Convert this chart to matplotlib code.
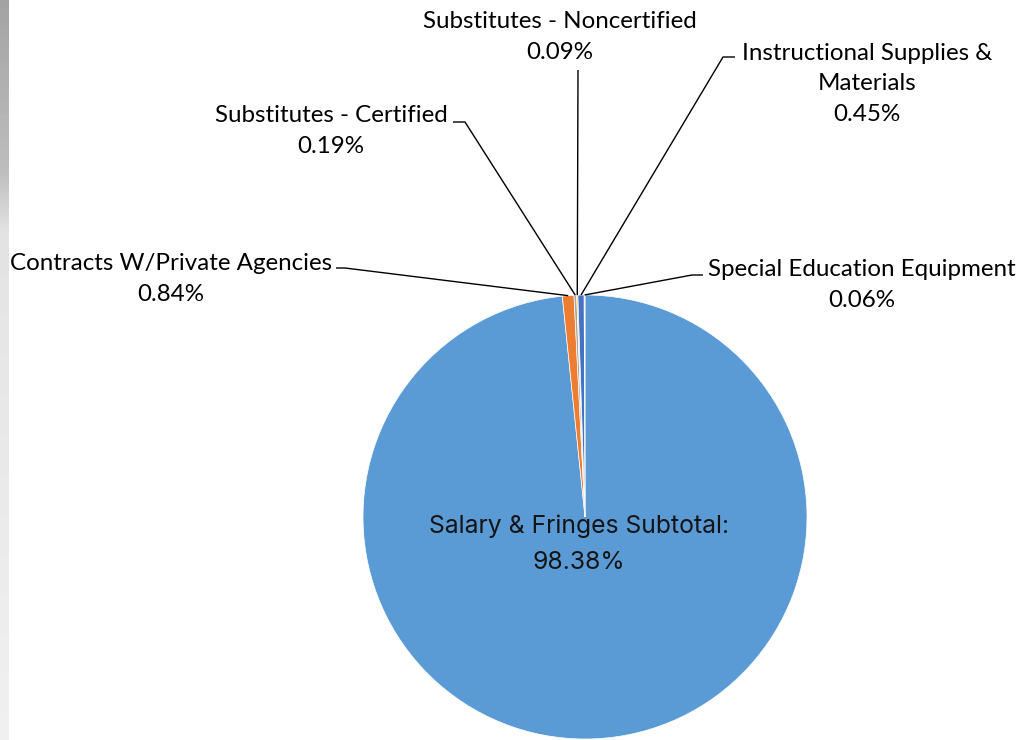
import numpy as np
import matplotlib.pyplot as plt

# Budget breakdown (percent of total)
categories = [
    "Salary & Fringes Subtotal:",
    "Contracts W/Private Agencies",
    "Substitutes - Certified",
    "Substitutes - Noncertified",
    "Instructional Supplies &\nMaterials",
    "Special Education Equipment",
]
shares = [98.38, 0.84, 0.19, 0.09, 0.45, 0.06]
colors = ["#5B9BD5", "#ED7D31", "#A5A5A5", "#FFC000", "#4472C4", "#70AD47"]

W, H = 1018, 740
fig = plt.figure(figsize=(W / 100, H / 100), dpi=100)
fig.patch.set_facecolor("white")

# faint grey strip down the left edge
strip = fig.add_axes([0, 0, 9 / W, 1])
shade = np.concatenate([np.linspace(0.64, 0.74, 170),
                        np.linspace(0.74, 0.88, 60),
                        np.linspace(0.89, 0.94, 510)])
strip.imshow(shade[:, None], cmap="gray", vmin=0, vmax=1, aspect="auto")
strip.axis("off")

ax = fig.add_axes([9 / W, 0, 1 - 9 / W, 1])


def fy(py):
    # pixel row -> data y
    return H - py


cx, cy, r = 585, 517, 222
wedges, _ = ax.pie(
    shares, colors=colors, startangle=90, counterclock=False,
    center=(cx, fy(cy)), radius=r,
    wedgeprops=dict(edgecolor="white", linewidth=0.5),
)
ax.set_xlim(9, W)
ax.set_ylim(0, H)
ax.set_aspect("equal")
ax.axis("off")

font = "Lato"
fs = 17.4

# inner label for the big slice
ax.text(579, fy(544), f"{categories[0]}\n{shares[0]:.2f}%", ha="center", va="center",
        fontsize=17.8, family="Inter", linespacing=1.72, color="#141414")

# outside labels: text centre, elbow start, elbow end (pixels)
label_pos = {
    1: ((171, 279), (345, 268), (336, 268)),
    2: ((331, 131), (465, 122), (453, 122)),
    3: ((560, 37), (578, 70), None),
    4: ((867, 84), (723, 57), (735, 57)),
    5: ((862, 285), (692, 275), (703, 275)),
}

for i, (txt_xy, elbow, tail) in label_pos.items():
    w = wedges[i]
    mid = np.deg2rad((w.theta1 + w.theta2) / 2)
    px = cx + r * np.cos(mid)
    py = cy - r * np.sin(mid)
    xs = [px, elbow[0]]
    ys = [fy(py), fy(elbow[1])]
    if tail is not None:
        xs.append(tail[0])
        ys.append(fy(tail[1]))
    ax.plot(xs, ys, color="black", linewidth=1.0, solid_capstyle="butt")
    ax.text(txt_xy[0], fy(txt_xy[1]), f"{categories[i]}\n{shares[i]:.2f}%",
            ha="center", va="center", fontsize=fs, family=font,
            linespacing=1.58, color="black", clip_on=False)

fig.savefig("out.png", dpi=100)
